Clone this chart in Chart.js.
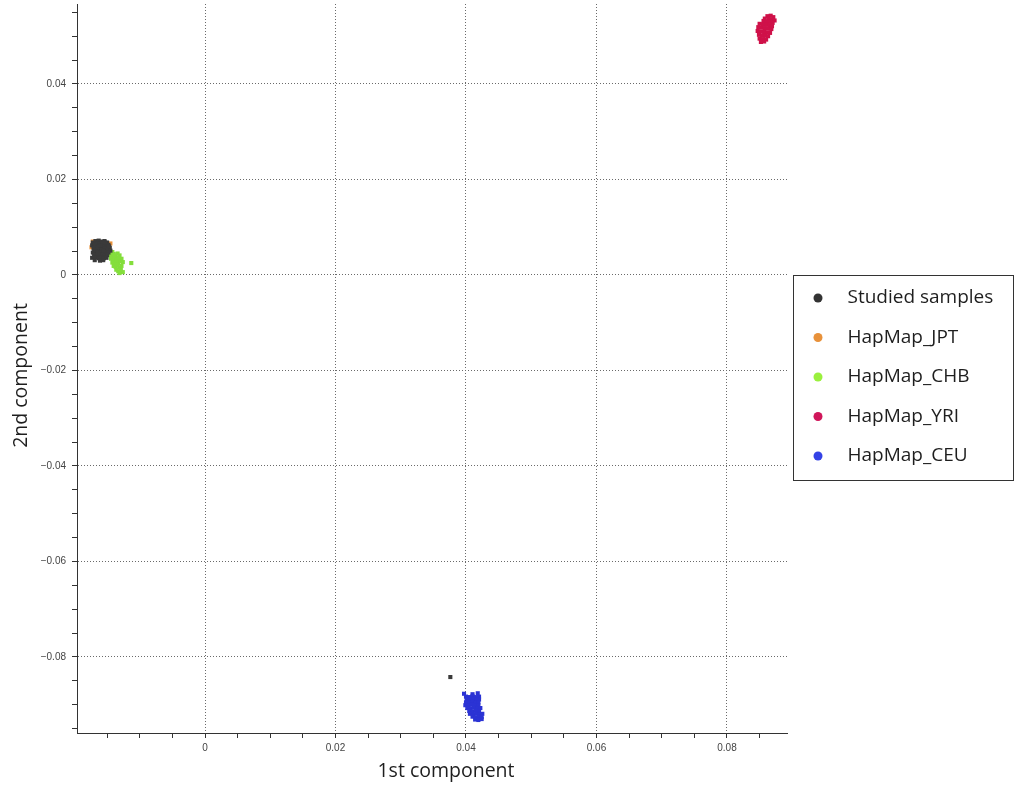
<!DOCTYPE html>
<html>
<head>
<meta charset="utf-8">
<script src="https://cdn.jsdelivr.net/npm/chart.js@4.4.1/dist/chart.umd.min.js"></script>
<style>
  html, body { margin: 0; padding: 0; background: #ffffff; }
  canvas { display: block; }
</style>
</head>
<body>
<canvas id="c" width="1019" height="790"></canvas>
<script>
// ---------------- data ----------------
const seriesLabels = ['Studied samples', 'HapMap_JPT', 'HapMap_CHB', 'HapMap_YRI', 'HapMap_CEU'];
const markerColors = ['#3a3a3a', '#e8913a', '#84de3c', '#cf1149', '#2b33d4'];
const legendColors = ['#333333', '#e8913a', '#9af03e', '#d0165a', '#3442e6'];

const studied = [
  [-0.0172,0.0068],[-0.0168,0.0071],[-0.0163,0.0072],[-0.0158,0.0070],[-0.0154,0.0071],[-0.0150,0.0068],
  [-0.0173,0.0062],[-0.0169,0.0064],[-0.0165,0.0066],[-0.0161,0.0065],[-0.0157,0.0066],[-0.0153,0.0064],[-0.0148,0.0063],
  [-0.0171,0.0057],[-0.0167,0.0059],[-0.0163,0.0060],[-0.0159,0.0058],[-0.0155,0.0060],[-0.0151,0.0058],[-0.0146,0.0057],
  [-0.0170,0.0052],[-0.0166,0.0054],[-0.0162,0.0055],[-0.0158,0.0053],[-0.0154,0.0055],[-0.0150,0.0052],[-0.0145,0.0051],
  [-0.0172,0.0047],[-0.0168,0.0048],[-0.0164,0.0049],[-0.0160,0.0047],[-0.0156,0.0049],[-0.0152,0.0046],[-0.0148,0.0047],
  [-0.0170,0.0042],[-0.0166,0.0043],[-0.0162,0.0041],[-0.0158,0.0043],[-0.0154,0.0040],[-0.0150,0.0042],
  [-0.0173,0.0036],[-0.0167,0.0037],[-0.0163,0.0035],[-0.0159,0.0037],[-0.0155,0.0035],[-0.0151,0.0036],
  [-0.0169,0.0031],[-0.0161,0.0030],[-0.0156,0.0031],
  [-0.0165,0.0058],[-0.0160,0.0062],[-0.0156,0.0051],[-0.0164,0.0045],[-0.0153,0.0068],[-0.0147,0.0060],
  [0.0376,-0.0842]
];
const jpt = [
  [-0.0172,0.0070],[-0.0170,0.0066],[-0.0160,0.0068],[-0.0150,0.0066],[-0.0166,0.0050],[-0.0158,0.0045],
  [-0.0168,0.0060],[-0.0155,0.0057],[-0.0162,0.0039],[-0.0152,0.0050],[-0.0145,0.0066],[-0.0174,0.0058]
];
const chb = [
  [-0.0148,0.0050],[-0.0145,0.0046],[-0.0142,0.0048],[-0.0146,0.0041],[-0.0143,0.0038],[-0.0140,0.0042],[-0.0137,0.0040],
  [-0.0134,0.0045],[-0.0131,0.0041],
  [-0.0144,0.0034],[-0.0141,0.0031],[-0.0138,0.0035],[-0.0135,0.0033],[-0.0132,0.0036],[-0.0128,0.0034],
  [-0.0142,0.0026],[-0.0139,0.0024],[-0.0136,0.0028],[-0.0133,0.0025],[-0.0130,0.0029],[-0.0126,0.0027],
  [-0.0140,0.0019],[-0.0137,0.0017],[-0.0134,0.0020],[-0.0131,0.0016],[-0.0128,0.0019],
  [-0.0136,0.0011],[-0.0133,0.0008],[-0.0129,0.0011],[-0.0126,0.0006],[-0.0131,0.0004],
  [-0.0113,0.0025],[-0.0140,0.0044],[-0.0136,0.0021]
];
const yri = [
  [0.0862,0.0542],[0.0867,0.0543],[0.0871,0.0540],[0.0858,0.0537],[0.0864,0.0538],[0.0869,0.0535],[0.0873,0.0533],
  [0.0856,0.0532],[0.0861,0.0531],[0.0866,0.0530],[0.0870,0.0528],
  [0.0850,0.0526],[0.0855,0.0525],[0.0860,0.0524],[0.0865,0.0523],[0.0869,0.0521],
  [0.0848,0.0519],[0.0853,0.0518],[0.0858,0.0517],[0.0863,0.0516],[0.0868,0.0515],
  [0.0847,0.0511],[0.0852,0.0510],[0.0857,0.0509],[0.0862,0.0508],[0.0866,0.0507],
  [0.0849,0.0503],[0.0854,0.0502],[0.0859,0.0501],[0.0863,0.0500],
  [0.0850,0.0495],[0.0855,0.0494],[0.0860,0.0493],[0.0852,0.0488],[0.0857,0.0489]
];
const ceu = [
  [0.0397,-0.0877],[0.0410,-0.0878],[0.0418,-0.0876],
  [0.0400,-0.0883],[0.0405,-0.0884],[0.0410,-0.0882],[0.0415,-0.0884],[0.0420,-0.0883],
  [0.0401,-0.0889],[0.0406,-0.0890],[0.0411,-0.0888],[0.0416,-0.0890],[0.0420,-0.0889],
  [0.0400,-0.0895],[0.0405,-0.0896],[0.0410,-0.0894],[0.0415,-0.0896],[0.0419,-0.0895],
  [0.0399,-0.0901],[0.0404,-0.0902],[0.0409,-0.0900],[0.0414,-0.0902],[0.0419,-0.0901],
  [0.0402,-0.0907],[0.0407,-0.0908],[0.0412,-0.0906],[0.0417,-0.0908],[0.0422,-0.0907],
  [0.0405,-0.0913],[0.0410,-0.0914],[0.0415,-0.0912],[0.0420,-0.0914],
  [0.0406,-0.0919],[0.0411,-0.0920],[0.0416,-0.0918],[0.0421,-0.0920],[0.0425,-0.0919],
  [0.0410,-0.0925],[0.0415,-0.0926],[0.0420,-0.0924],[0.0424,-0.0926],
  [0.0414,-0.0931],[0.0419,-0.0932],[0.0424,-0.0930]
];
const seriesData = [studied, jpt, chb, yri, ceu];

const xTickLabels = { '0': '0', '0.02': '0.02', '0.04': '0.04', '0.06': '0.06', '0.08': '0.08' };
const yTickLabels = { '0.04': '0.04', '0.02': '0.02', '0': '0', '-0.02': '\u22120.02', '-0.04': '\u22120.04', '-0.06': '\u22120.06', '-0.08': '\u22120.08' };
const xRange = [-0.01962, 0.0892];
const yRange = [-0.09592, 0.05675];
const minorStep = 0.005;
const majorStep = 0.02;
const xTitle = '1st component';
const yTitle = '2nd component';

// ---------------- helpers ----------------
function isMajor(v) {
  const r = v / majorStep;
  return Math.abs(r - Math.round(r)) < 1e-6;
}
function keyOf(v) {
  const r = Math.round(v / majorStep) * majorStep;
  return String(+r.toFixed(4));
}

const datasets = seriesData.map((pts, i) => ({
  label: seriesLabels[i],
  data: pts.map(p => ({ x: p[0], y: p[1] })),
  backgroundColor: markerColors[i],
  borderColor: markerColors[i],
  borderWidth: 0,
  pointStyle: 'rect',
  pointRadius: 2.9,
  pointHoverRadius: 2.9
}));

const gridCommon = {
  color: ctx => (ctx.tick && isMajor(ctx.tick.value)) ? '#6a6a6a' : 'rgba(0,0,0,0)',
  lineWidth: 1,
  tickColor: '#333333',
  tickLength: 5,
  tickWidth: 1,
  drawOnChartArea: true
};

const decorPlugin = {
  id: 'decor',
  afterDraw(chart) {
    const ctx = chart.ctx;
    const area = chart.chartArea;
    ctx.save();
    // axis titles
    ctx.fillStyle = '#1e1e1e';
    ctx.font = '19.5px "Open Sans"';
    ctx.textAlign = 'center';
    ctx.textBaseline = 'middle';
    ctx.fillText(xTitle, (area.left + area.right) / 2 + 14, 771);
    ctx.save();
    ctx.translate(21, (area.top + area.bottom) / 2 + 7);
    ctx.rotate(-Math.PI / 2);
    ctx.fillText(yTitle, 0, 0);
    ctx.restore();
    // legend box
    const left = area.right + 6.5;
    const top = 275.5;
    const width = 220;
    const height = 205;
    ctx.fillStyle = '#ffffff';
    ctx.fillRect(left, top, width, height);
    ctx.strokeStyle = '#333333';
    ctx.lineWidth = 1;
    ctx.strokeRect(left, top, width, height);
    ctx.font = '19px "Open Sans"';
    ctx.textBaseline = 'middle';
    ctx.textAlign = 'left';
    chart.data.datasets.forEach((ds, i) => {
      const cy = top + 22.5 + i * 39.5;
      ctx.beginPath();
      ctx.fillStyle = legendColors[i];
      ctx.arc(left + 24.5, cy, 4.5, 0, Math.PI * 2);
      ctx.fill();
      ctx.fillStyle = '#1e1e1e';
      ctx.fillText(ds.label, left + 54, cy);
    });
    ctx.restore();
  }
};

new Chart(document.getElementById('c'), {
  type: 'scatter',
  data: { datasets },
  options: {
    responsive: false,
    animation: false,
    layout: { padding: { top: 4, right: 232, left: 0, bottom: 0 } },
    plugins: {
      legend: { display: false },
      tooltip: { enabled: false }
    },
    scales: {
      x: {
        type: 'linear',
        position: 'bottom',
        min: xRange[0],
        max: xRange[1],
        afterFit: s => { s.height = 57; s.paddingLeft = 0; s.paddingRight = 0; },
        grid: gridCommon,
        border: { display: true, color: '#333333', width: 1, dash: [1, 2] },
        ticks: {
          stepSize: minorStep,
          includeBounds: false,
          autoSkip: false,
          maxRotation: 0,
          minRotation: 0,
          padding: 4,
          color: '#444444',
          font: { family: '"Liberation Sans", Arial, sans-serif', size: 10 },
          callback: v => isMajor(v) ? (xTickLabels[keyOf(v)] || '') : ''
        },
        title: { display: false, text: xTitle }
      },
      y: {
        type: 'linear',
        position: 'left',
        min: yRange[0],
        max: yRange[1],
        afterFit: s => { s.width = 77; s.paddingTop = 0; s.paddingBottom = 0; },
        grid: gridCommon,
        border: { display: true, color: '#333333', width: 1, dash: [1, 2] },
        ticks: {
          stepSize: minorStep,
          includeBounds: false,
          autoSkip: false,
          padding: 6,
          color: '#444444',
          font: { family: '"Liberation Sans", Arial, sans-serif', size: 10 },
          callback: v => isMajor(v) ? (yTickLabels[keyOf(v)] || '') : ''
        },
        title: { display: false, text: yTitle }
      }
    }
  },
  plugins: [decorPlugin]
});
</script>
</body>
</html>
